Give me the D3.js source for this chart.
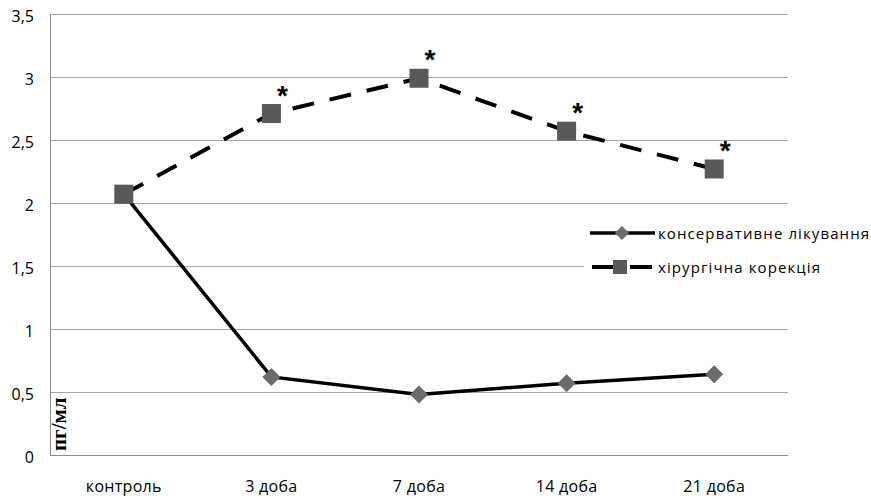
<!DOCTYPE html>
<html><head><meta charset="utf-8">
<script src="https://cdn.jsdelivr.net/npm/d3@7"></script>
<style>body{margin:0;background:#fff}svg{display:block}</style>
</head><body>
<script>
const categories = ["контроль","3 доба","7 доба","14 доба","21 доба"];
const conservative = [2.07,0.62,0.48,0.57,0.64];
const surgical = [2.07,2.71,2.99,2.57,2.27];
const significant = [false,true,true,true,true];
const yTicks = [0,0.5,1,1.5,2,2.5,3,3.5];
const seriesNames = ["консервативне лікування","хірургічна корекція"];
const yLabel = "пг/мл";

const W=871,H=499;
const m={left:50,top:14,right:83,bottom:44};
const svg=d3.select("body").append("svg").attr("width",W).attr("height",H);
const x=d3.scaleBand().domain(categories).range([m.left,W-m.right]);
const y=d3.scaleLinear().domain([0,3.5]).range([H-m.bottom,m.top]);
const font="'Open Sans', 'Liberation Sans', sans-serif";

// gridlines
svg.append("g").selectAll("line").data(yTicks).join("line")
 .attr("x1",m.left).attr("x2",W-m.right)
 .attr("y1",d=>y(d)).attr("y2",d=>y(d))
 .attr("stroke",d=>d===0?"#8c8c8c":"#a6a6a6").attr("stroke-width",1).attr("shape-rendering","crispEdges");
svg.append("line").attr("x1",m.left).attr("x2",m.left).attr("y1",m.top).attr("y2",H-m.bottom)
 .attr("stroke","#8c8c8c").attr("shape-rendering","crispEdges");

// y tick labels
svg.append("g").selectAll("text").data(yTicks).join("text")
 .attr("x",34).attr("y",d=>y(d)+8).attr("text-anchor","end")
 .attr("font-family",font).attr("font-size",16).attr("fill","#000")
 .text(d=>String(d).replace(".",","));
// x labels
svg.append("g").selectAll("text").data(categories).join("text")
 .attr("x",d=>x(d)+x.bandwidth()/2).attr("y",492).attr("text-anchor","middle")
 .attr("font-family",font).attr("font-size",16).attr("letter-spacing",0.3).attr("fill","#000")
 .text(d=>d);

// y axis label
svg.append("text").attr("transform",`translate(66,${H-m.bottom-4}) rotate(-90)`)
 .attr("font-family","'Liberation Serif','DejaVu Serif',serif").attr("font-weight","bold")
 .attr("font-size",21).text(yLabel);

// legend background
svg.append("rect").attr("x",584).attr("y",214).attr("width",287).attr("height",72).attr("fill","#fff");

const cx=(d,i)=>x(categories[i])+x.bandwidth()/2;
const line=d3.line().x((d,i)=>cx(d,i)).y(d=>y(d));
const diamondPath=r=>`M0,${-r}L${r},0L0,${r}L${-r},0Z`;

svg.append("path").datum(conservative).attr("d",line).attr("fill","none")
 .attr("stroke","#000").attr("stroke-width",3.5);
svg.append("g").selectAll("path").data(conservative).join("path")
 .attr("d",diamondPath(9)).attr("transform",(d,i)=>`translate(${cx(d,i)},${y(d)})`)
 .attr("fill","#6b6b6b");

svg.append("path").datum(surgical).attr("d",line).attr("fill","none")
 .attr("stroke","#000").attr("stroke-width",4).attr("stroke-dasharray","22,16");
const sq=19;
svg.append("g").selectAll("rect").data(surgical).join("rect")
 .attr("x",(d,i)=>cx(d,i)-sq/2).attr("y",d=>y(d)-sq/2).attr("width",sq).attr("height",sq)
 .attr("fill","#595959");

// asterisks
svg.append("g").selectAll("text").data(surgical.map((v,i)=>({v,i})).filter(d=>significant[d.i])).join("text")
 .attr("x",d=>cx(d.v,d.i)+11).attr("y",d=>y(d.v)-9).attr("text-anchor","middle")
 .attr("font-family","'Liberation Sans',sans-serif").attr("font-weight","bold").attr("font-size",28).text("*");

// legend
const lg=svg.append("g");
lg.append("line").attr("x1",590).attr("x2",655).attr("y1",233).attr("y2",233).attr("stroke","#000").attr("stroke-width",3.5);
lg.append("path").attr("d",diamondPath(7)).attr("transform","translate(622,233)").attr("fill","#6b6b6b");
lg.append("text").attr("x",658).attr("y",239).attr("font-family",font).attr("font-size",15).attr("letter-spacing",1.1).text(seriesNames[0]);
lg.append("line").attr("x1",592).attr("x2",655).attr("y1",267).attr("y2",267).attr("stroke","#000").attr("stroke-width",4).attr("stroke-dasharray","22,16");
lg.append("rect").attr("x",613).attr("y",260).attr("width",14).attr("height",14).attr("fill","#595959");
lg.append("text").attr("x",658).attr("y",273).attr("font-family",font).attr("font-size",15).attr("letter-spacing",1.1).text(seriesNames[1]);
</script>
</body></html>
